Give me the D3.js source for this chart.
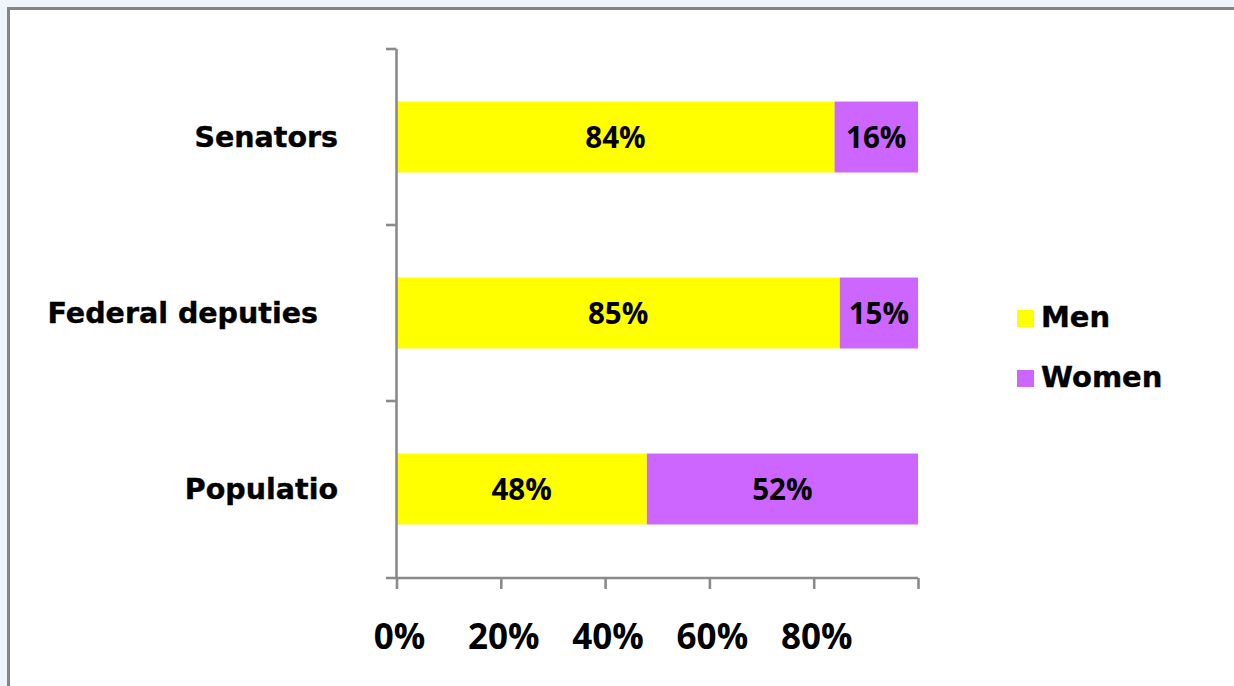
<!DOCTYPE html>
<html>
<head>
<meta charset="utf-8">
<script src="https://cdn.jsdelivr.net/npm/d3@7/dist/d3.min.js"></script>
<style>
  html, body { margin: 0; padding: 0; background: #edf4fb; }
  svg { display: block; }
</style>
</head>
<body>
<svg id="chart" width="1234" height="686"></svg>
<script>
// Share of men and women: population vs. elected offices
const categories = ["Senators", "Federal deputies", "Populatio"];
const seriesNames = ["Men", "Women"];
const menShare = [0.84, 0.85, 0.48];
const womenShare = [0.16, 0.15, 0.52];
const tickValues = [0, 0.2, 0.4, 0.6, 0.8];
const tickLabels = ["0%", "20%", "40%", "60%", "80%"];

const colors = ["#ffff00", "#cc66ff"];
const axisColor = "#8a8a8a";
const labelFont = "'DejaVu Sans', Verdana, sans-serif";
const numberFont = "'Open Sans', Roboto, sans-serif";

const svg = d3.select("#chart");

// white chart area with its grey frame
svg.append("rect")
  .attr("x", 8.5).attr("y", 8.5)
  .attr("width", 1240).attr("height", 700)
  .attr("fill", "#ffffff")
  .attr("stroke", "#858585")
  .attr("stroke-width", 3);

const x = d3.scaleLinear().domain([0, 1]).range([396.5, 918]);
const y = d3.scaleBand().domain(categories).range([49, 577])
  .paddingInner(0.597).paddingOuter(0.2985);

const rows = categories.map((c, i) => ({ cat: c, values: [menShare[i], womenShare[i]] }));
const stack = d3.stack().keys([0, 1]).value((d, k) => d.values[k]);
const layers = stack(rows);

// stacked bars
const g = svg.append("g");
layers.forEach((layer, k) => {
  g.selectAll(null).data(layer).enter().append("rect")
    .attr("x", d => x(d[0]))
    .attr("y", d => y(d.data.cat))
    .attr("width", d => x(d[1]) - x(d[0]))
    .attr("height", y.bandwidth())
    .attr("fill", colors[k]);

  g.selectAll(null).data(layer).enter().append("text")
    .attr("x", d => (x(d[0]) + x(d[1])) / 2)
    .attr("y", d => y(d.data.cat) + y.bandwidth() / 2 + 10.5)
    .attr("text-anchor", "middle")
    .attr("font-family", numberFont)
    .attr("font-weight", 700)
    .attr("font-size", 29.5)
    .attr("fill", "#000")
    .text(d => Math.round(d.data.values[k] * 100) + "%");
});

// value axis along the bottom
const xAxis = d3.axisBottom(x).tickValues([0, 0.2, 0.4, 0.6, 0.8, 1])
  .tickSize(11).tickSizeOuter(0).tickFormat(() => "");
const xg = svg.append("g").attr("transform", "translate(0,578)").call(xAxis);
xg.select(".domain").attr("stroke", axisColor).attr("stroke-width", 2.6)
  .attr("d", `M386,0H${x(1)}`);
xg.selectAll(".tick line").attr("stroke", axisColor).attr("stroke-width", 2.6);

svg.append("g").selectAll("text").data(tickValues).enter().append("text")
  .attr("x", d => x(d) + 3)
  .attr("y", 648.5)
  .attr("text-anchor", "middle")
  .attr("font-family", numberFont)
  .attr("font-weight", 700)
  .attr("font-size", 35)
  .attr("fill", "#000")
  .text((d, i) => tickLabels[i]);

// category axis: line with ticks on the band boundaries
const bounds = categories.map(c => y(c) - y.step() * y.paddingInner() / 2)
  .concat([y(categories[categories.length - 1]) + y.bandwidth() + y.step() * y.paddingInner() / 2]);
const yg = svg.append("g");
yg.append("line")
  .attr("x1", x(0)).attr("x2", x(0))
  .attr("y1", bounds[0]).attr("y2", bounds[bounds.length - 1])
  .attr("stroke", axisColor).attr("stroke-width", 2.6);
yg.selectAll(null).data(bounds.slice(0, -1)).enter().append("line")
  .attr("x1", 386).attr("x2", x(0))
  .attr("y1", d => d).attr("y2", d => d)
  .attr("stroke", axisColor).attr("stroke-width", 2.6);

// category labels
const labelShift = [0, -20, 0];
svg.append("g").selectAll("text").data(categories).enter().append("text")
  .attr("x", (d, i) => 338 + labelShift[i])
  .attr("y", d => y(d) + y.bandwidth() / 2 + 9.5)
  .attr("text-anchor", "end")
  .attr("font-family", labelFont)
  .attr("font-weight", "bold")
  .attr("font-size", 28.5)
  .attr("fill", "#000")
  .attr("stroke", "#000")
  .attr("stroke-width", 0.4)
  .text(d => d);

// legend
const legend = svg.append("g");
seriesNames.forEach((name, i) => {
  const ly = 327 + i * 60;
  legend.append("rect")
    .attr("x", 1017).attr("y", ly - 17)
    .attr("width", 17).attr("height", 17)
    .attr("fill", colors[i]);
  legend.append("text")
    .attr("x", 1041).attr("y", ly)
    .attr("font-family", labelFont)
    .attr("font-weight", "bold")
    .attr("font-size", 29)
    .attr("fill", "#000")
    .attr("stroke", "#000")
    .attr("stroke-width", 0.4)
    .text(name);
});
</script>
</body>
</html>
